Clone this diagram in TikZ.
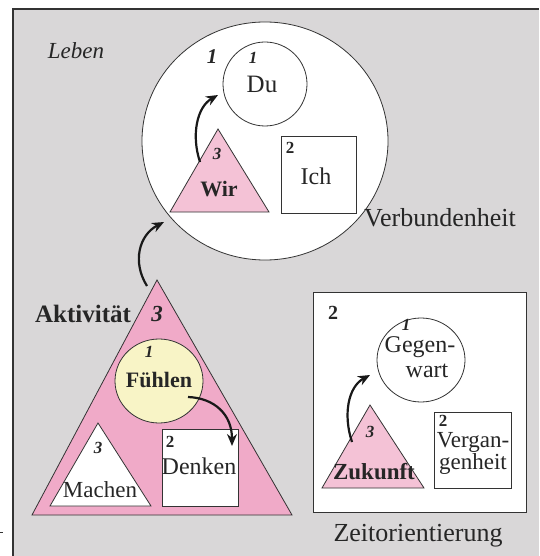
\documentclass[tikz,border=0pt]{standalone}
\usepackage{fontspec}
\setmainfont{Liberation Serif}
\usetikzlibrary{arrows.meta}
\definecolor{bggray}{HTML}{D9D7D8}
\definecolor{lightpink}{HTML}{F4C2D6}
\definecolor{deeppink}{HTML}{F0AAC8}
\definecolor{paleyellow}{HTML}{F8F4C6}
\definecolor{inkgray}{HTML}{333333}
\tikzset{
  shape line/.style={draw=inkgray, line width=0.8pt},
  bend arrow/.style={line width=2.2pt, draw=black!90, -{Stealth[length=12pt,width=10pt]}},
  label text/.style={font=\fontsize{26}{28}\selectfont, inner sep=0pt, text=black!85},
  big/.style={font=\fontsize{24}{26}\selectfont, inner sep=0pt, text=black!85},
  num/.style={font=\fontsize{17}{19}\selectfont\bfseries\itshape, inner sep=0pt, text=black!85},
  bnum/.style={font=\fontsize{17}{19}\selectfont\bfseries, inner sep=0pt, text=black!85},
}
\begin{document}
\begin{tikzpicture}[x=1pt,y=-1pt]
\useasboundingbox (0,0) rectangle (539,556);
% frame
\fill[bggray] (13,9) rectangle (539,556);
\draw[line width=1.2pt, inkgray] (13,556) -- (13,9) -- (539,9);
\draw[line width=0.8pt, inkgray] (0,532) -- (3,532);

% ---------- Verbundenheit ----------
\draw[shape line, fill=white] (265,141) ellipse [x radius=123, y radius=119];
\node[font=\fontsize{23}{25}\selectfont\itshape, inner sep=0pt, text=black!85] (leben) at (76,51) {Leben};
\node[font=\fontsize{21}{23}\selectfont\bfseries\itshape, inner sep=0pt, text=black!85] (n1a) at (212,57) {1};
\draw[shape line, fill=white] (265,84) ellipse [x radius=42, y radius=42];
\node[num] (n1b) at (253,58) {1};
\node[font=\fontsize{25}{27}\selectfont, inner sep=0pt, text=black!85] (du) at (262,84) {Du};
\draw[shape line, fill=lightpink] (218,129) -- (269,212) -- (170,212) -- cycle;
\node[num] (n3a) at (217,154) {3};
\node[font=\fontsize{22}{24}\selectfont\bfseries, inner sep=0pt, text=black!85] (wir) at (219,189) {Wir};
\draw[shape line, fill=white] (281,136) rectangle (356,213);
\node[bnum] (n2a) at (290,148) {2};
\node[font=\fontsize{24}{26}\selectfont, inner sep=0pt, text=black!85] (ich) at (316,176) {Ich};
\node[label text] (verb) at (440,218) {Verbundenheit};
\coordinate (wirS) at (200,162);
\coordinate (duE) at (218,95);
\draw[bend arrow] (wirS) .. controls (191,135) and (197,107) .. (duE);

% ---------- Aktivitaet ----------
\draw[shape line, fill=deeppink] (157,280) -- (292,515) -- (32,515) -- cycle;
\node[font=\fontsize{25}{27}\selectfont\bfseries, inner sep=0pt, text=black!85] (akt) at (83,314) {Aktivität};
\node[font=\fontsize{23}{25}\selectfont\bfseries\itshape, inner sep=0pt, text=black!85] (n3b) at (157,314) {3};
\draw[shape line, fill=paleyellow] (159,381) ellipse [x radius=44, y radius=42];
\node[num] (n1c) at (149,352) {1};
\node[font=\fontsize{22}{24}\selectfont\bfseries, inner sep=0pt, text=black!85] (fuehl) at (159,380) {Fühlen};
\draw[shape line, fill=white] (98,423) -- (151,506) -- (50,506) -- cycle;
\node[num] (n3c) at (98,448) {3};
\node[font=\fontsize{23}{25}\selectfont, inner sep=0pt, text=black!85] (machen) at (100,490) {Machen};
\draw[shape line, fill=white] (162,429) rectangle (238,506);
\node[bnum] (n2b) at (170,442) {2};
\node[big] (denken) at (199,466) {Denken};
\coordinate (aktS) at (147,286);
\coordinate (verbE) at (164,222);
\draw[bend arrow] (aktS) .. controls (132,262) and (139,235) .. (verbE);
\coordinate (fuehlS) at (188,397);
\coordinate (denkE) at (232,446);
\draw[bend arrow] (fuehlS) .. controls (214,398) and (232,414) .. (denkE);

% ---------- Zeitorientierung ----------
\draw[shape line, fill=white] (313,292) rectangle (526,512);
\node[font=\fontsize{20}{22}\selectfont\bfseries, inner sep=0pt, text=black!85] (n2c) at (333,313) {2};
\draw[shape line, fill=white] (421,360) ellipse [x radius=44, y radius=42];
\node[num] (n1d) at (406,325) {1};
\node[font=\fontsize{24}{26}\selectfont, inner sep=0pt, text=black!85] (gegen) at (420,347) {Gegen-};
\node[font=\fontsize{24}{26}\selectfont, inner sep=0pt, text=black!85] (wart) at (427,371) {wart};
\draw[shape line, fill=lightpink] (370,405) -- (424,488) -- (322,488) -- cycle;
\node[num] (n3d) at (370,432) {3};
\node[font=\fontsize{23}{25}\selectfont\bfseries, inner sep=0pt, text=black!85] (zuk) at (374,472) {Zukunft};
\draw[shape line, fill=white] (434,412) rectangle (511,488);
\node[bnum] (n2d) at (443,421) {2};
\node[font=\fontsize{23}{25}\selectfont, inner sep=0pt, text=black!85] (vergan) at (473,442) {Vergan-};
\node[font=\fontsize{23}{25}\selectfont, inner sep=0pt, text=black!85] (genheit) at (473,464) {genheit};
\node[label text] (zeit) at (418,536) {Zeitorientierung};
\coordinate (zukS) at (352,442);
\coordinate (gegE) at (370,375);
\draw[bend arrow] (zukS) .. controls (343,415) and (348,387) .. (gegE);
\end{tikzpicture}
\end{document}
